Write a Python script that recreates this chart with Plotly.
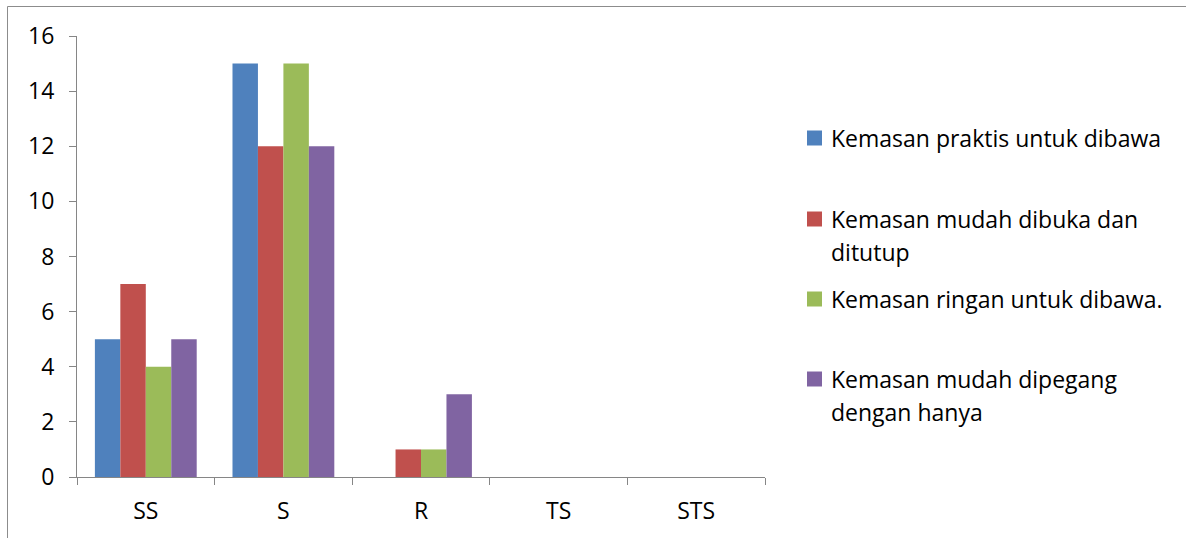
import plotly.graph_objects as go

# Survey responses per answer category
categories = ["SS", "S", "R", "TS", "STS"]
series_names = [
    "Kemasan praktis untuk dibawa",
    "Kemasan mudah dibuka dan ditutup",
    "Kemasan ringan untuk dibawa.",
    "Kemasan mudah dipegang dengan hanya",
]
praktis = [5, 15, 0, 0, 0]
mudah_dibuka = [7, 12, 1, 0, 0]
ringan = [4, 15, 1, 0, 0]
mudah_dipegang = [5, 12, 3, 0, 0]
y_ticks = [0, 2, 4, 6, 8, 10, 12, 14, 16]

# Legend wording split over lines as displayed
legend_lines = [
    ["Kemasan praktis untuk dibawa"],
    ["Kemasan mudah dibuka dan", "ditutup"],
    ["Kemasan ringan untuk dibawa."],
    ["Kemasan mudah dipegang", "dengan hanya"],
]

colors = ["#4F81BD", "#C0504D", "#9BBB59", "#8064A2"]
values = [praktis, mudah_dibuka, ringan, mudah_dipegang]

W, H = 1186, 538
ML, MR, MT, MB = 77, 421, 36, 61
PW, PH = W - ML - MR, H - MT - MB
FONT = "Open Sans"
FSIZE = 23


def px_x(px):
    return (px - ML) / PW


def px_y(py):
    return (H - MB - py) / PH


fig = go.Figure()
for name, vals, col in zip(series_names, values, colors):
    fig.add_trace(go.Bar(x=categories, y=vals, name=name,
                         marker=dict(color=col, line=dict(width=0)),
                         showlegend=False))

axis_col = "#868686"
fig.update_layout(
    width=W, height=H,
    margin=dict(l=ML, r=MR, t=MT, b=MB, pad=0),
    paper_bgcolor="white", plot_bgcolor="white",
    barmode="group", bargap=0.26, bargroupgap=0,
    font=dict(family=FONT, size=FSIZE, color="#000000"),
    xaxis=dict(showline=True, linecolor=axis_col, linewidth=1,
               ticks="outside", tickson="boundaries", ticklen=7,
               tickcolor=axis_col, showgrid=False, zeroline=False,
               ticklabelstandoff=13, fixedrange=True),
    yaxis=dict(range=[0, 16], tickvals=y_ticks, showline=True,
               linecolor=axis_col, linewidth=1, ticks="outside",
               ticklen=7, tickcolor=axis_col, showgrid=False,
               zeroline=False, ticklabelstandoff=10, fixedrange=True),
)

# Outer chart frame (left and top edges)
frame_col = "#8c8c8c"
fig.add_shape(type="line", xref="paper", yref="paper",
              x0=px_x(7.5), x1=px_x(W + 5), y0=px_y(6.5), y1=px_y(6.5),
              line=dict(color=frame_col, width=1))
fig.add_shape(type="line", xref="paper", yref="paper",
              x0=px_x(7.5), x1=px_x(7.5), y0=px_y(6.5), y1=px_y(H + 5),
              line=dict(color=frame_col, width=1))

# Legend: colour keys and labels
line_centres = [[138], [219, 252], [299], [379, 412]]
for lines, ys, col in zip(legend_lines, line_centres, colors):
    y0 = ys[0]
    fig.add_shape(type="rect", xref="paper", yref="paper",
                  x0=px_x(807), x1=px_x(822), y0=px_y(y0 - 7.5), y1=px_y(y0 + 7.5),
                  fillcolor=col, line=dict(width=0))
    for txt, yy in zip(lines, ys):
        fig.add_annotation(text=txt, xref="paper", yref="paper",
                           x=px_x(829), y=px_y(yy), xanchor="left",
                           yanchor="middle", showarrow=False,
                           font=dict(family=FONT, size=FSIZE, color="#000000"))

fig.write_html("out.html")
